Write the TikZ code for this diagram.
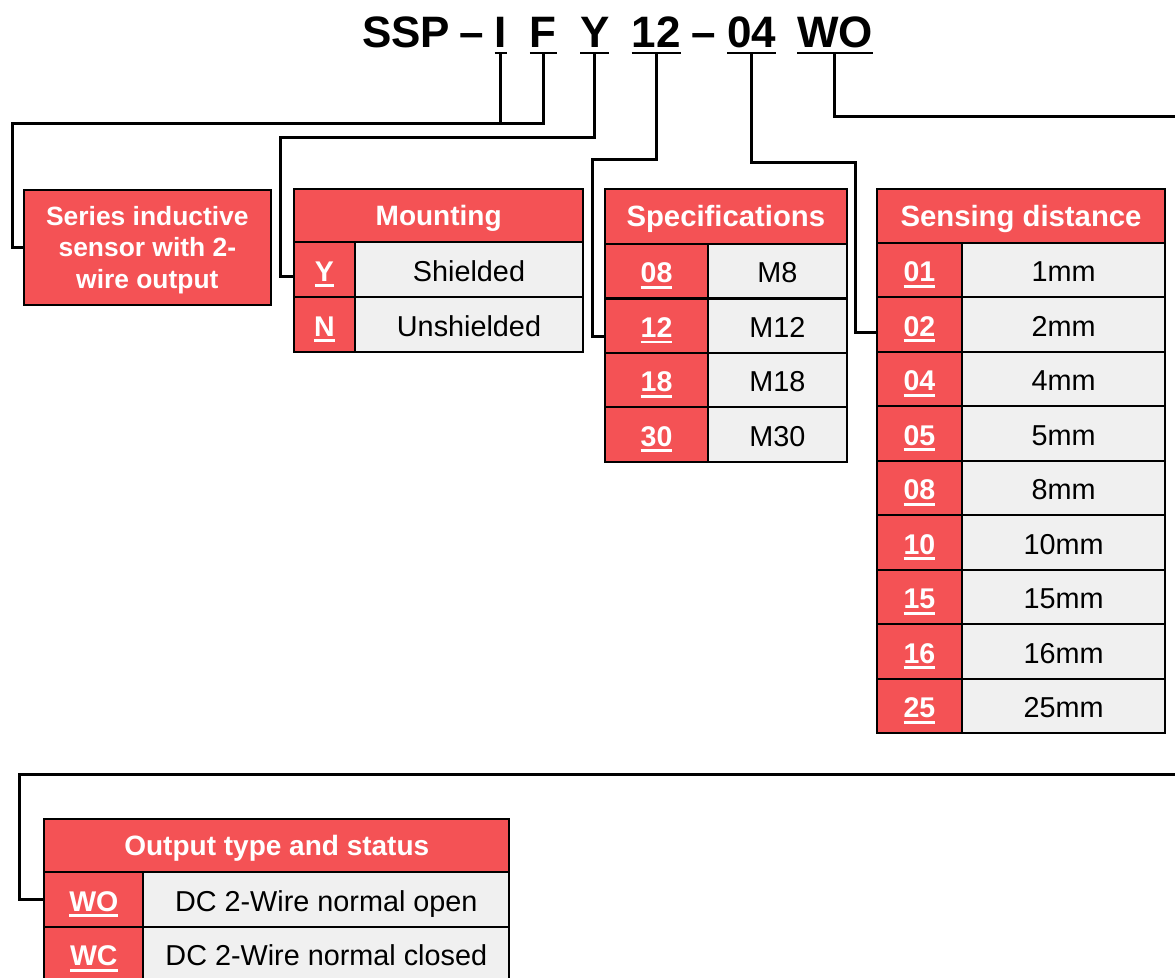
\documentclass[tikz,border=0pt]{standalone}
\usepackage{fontspec}
\setmainfont{Liberation Sans}
\definecolor{cred}{RGB}{244,82,85}
\definecolor{cgrey}{RGB}{240,240,240}
\newsavebox\ucbox
\newcommand{\ucode}[1]{\sbox\ucbox{#1}\rlap{\smash{\rule[-6pt]{\wd\ucbox}{2.8pt}}}\usebox\ucbox}
\begin{document}
\begin{tikzpicture}[x=1pt,y=-1pt,
  conn/.style={line width=3pt, line join=miter},
  ttl/.style={anchor=base west, inner sep=0pt, outer sep=0pt, font=\bfseries\fontsize{44}{50}\selectfont},
  uline/.style={line width=2.8pt},
  cellbase/.style={draw=black, line width=2.2pt, anchor=north west, inner sep=0pt, outer sep=0pt},
  hdrcell/.style={cellbase, fill=cred, text=white, text height=20.5pt, text depth=0pt, font=\bfseries\fontsize{28}{30}\selectfont},
  codecell/.style={cellbase, fill=cred, text=white, text height=23.5pt, text depth=0pt, font=\bfseries\fontsize{28.5}{30}\selectfont},
  valcell/.style={cellbase, fill=cgrey, text=black, text height=23.5pt, text depth=0pt, font=\fontsize{28.8}{30}\selectfont},
  seriesbox/.style={cellbase, fill=cred},
  seriestext/.style={inner sep=0pt, text=white, align=center, font=\bfseries\fontsize{26.4}{31.5}\selectfont},
]
\useasboundingbox (0,0) rectangle (1175,977);
\clip (0,0) rectangle (1175,977);
\fill[white] (0,0) rectangle (1175,977);

% title
\node[ttl] (tSSP) at (362,47.5) {SSP};
\node[ttl] (td1) at (459.5,47.5) {–};
\node[ttl] (tI) at (494.6,47.5) {I};
\node[ttl] (tF) at (529.8,47.5) {F};
\node[ttl] (tY) at (580,47.5) {Y};
\node[ttl] (t12) at (631.7,47.5) {12};
\node[ttl] (td2) at (691,47.5) {–};
\node[ttl] (t04) at (727,47.5) {04};
\node[ttl] (tWO) at (797,47.5) {WO};
\foreach \n in {tI,tF,tY,t12,t04,tWO}
  \draw[uline] ([yshift=-5.5pt]\n.base west) -- ([yshift=-5.5pt]\n.base east);

% series box
\node[seriesbox, minimum width=246.7pt, minimum height=115pt] (series) at (24,190) {};
\node[seriestext] (seriestxt) at ([yshift=-2.5pt]series.center) {Series inductive\\sensor with 2-\\wire output};

% mounting
\node[hdrcell, minimum width=289.3pt, minimum height=52.7pt] (mth) at (294,189.3) {Mounting};
\foreach \c/\v [count=\i] in {Y/Shielded,N/Unshielded} {
  \node[codecell, minimum width=60.7pt, minimum height=54.85pt] (mtc\i) at (294,{242+(\i-1)*54.85}) {\ucode{\c}};
  \node[valcell, minimum width=228.6pt, minimum height=54.85pt] (mtv\i) at (354.7,{242+(\i-1)*54.85}) {\v};
}

% specifications
\node[hdrcell, minimum width=241.7pt, minimum height=54.7pt, font=\bfseries\fontsize{29.3}{30}\selectfont] (sph) at (605,189.3) {Specifications};
\foreach \c/\v [count=\i] in {08/M8,12/M12,18/M18,30/M30} {
  \node[codecell, minimum width=103pt, minimum height=54.4pt] (spc\i) at (605,{244+(\i-1)*54.4}) {\ucode{\c}};
  \node[valcell, minimum width=138.7pt, minimum height=54.4pt] (spv\i) at (708,{244+(\i-1)*54.4}) {\v};
}

% sensing distance
\node[hdrcell, minimum width=288.6pt, minimum height=53.7pt, font=\bfseries\fontsize{29.3}{30}\selectfont] (sdh) at (876.7,189) {Sensing distance};
\foreach \c/\v [count=\i] in {01/1mm,02/2mm,04/4mm,05/5mm,08/8mm,10/10mm,15/15mm,16/16mm,25/25mm} {
  \node[codecell, minimum width=85.3pt, minimum height=54.5pt] (sdc\i) at (876.7,{242.7+(\i-1)*54.5}) {\ucode{\c}};
  \node[valcell, minimum width=203.3pt, minimum height=54.5pt] (sdv\i) at (962,{242.7+(\i-1)*54.5}) {\v};
}

% output type
\node[hdrcell, minimum width=465pt, minimum height=52.7pt, font=\bfseries\fontsize{28}{30}\selectfont] (oth) at (44.3,819.3) {Output type and status};
\foreach \c/\v [count=\i] in {WO/DC 2-Wire normal open,WC/DC 2-Wire normal closed} {
  \node[codecell, minimum width=99pt, minimum height=54.7pt] (otc\i) at (44.3,{872+(\i-1)*54.7}) {\ucode{\c}};
  \node[valcell, minimum width=366pt, minimum height=54.7pt] (otv\i) at (143.3,{872+(\i-1)*54.7}) {\v};
}

% connectors
\coordinate (busA) at (12,123);
\coordinate (busB) at (280,137);
\coordinate (busC) at (592,159);
\coordinate (busD) at (855,162);
\coordinate (edgeA) at (1185,116);
\coordinate (edgeB) at (1185,774);
\coordinate (busE) at (19,774);
\draw[conn] ([yshift=-5.5pt]tI.base) -- (tI.base |- busA);
\draw[conn] ([yshift=-5.5pt]tF.base) |- (busA) |- (series.west);
\draw[conn] ([yshift=-5.5pt]tY.base) |- (busB) |- ([yshift=-7.5pt]mtc1.west);
\draw[conn] ([yshift=-5.5pt]t12.base) |- (busC) |- ([yshift=-10.5pt]spc2.west);
\draw[conn] ([yshift=-5.5pt]t04.base) |- (busD) |- ([yshift=-8pt]sdc2.west);
\draw[conn] ([yshift=-5.5pt]tWO.base) |- (edgeA);
\draw[conn] (edgeB) -- (busE) |- (otc1.west);
\end{tikzpicture}
\end{document}
